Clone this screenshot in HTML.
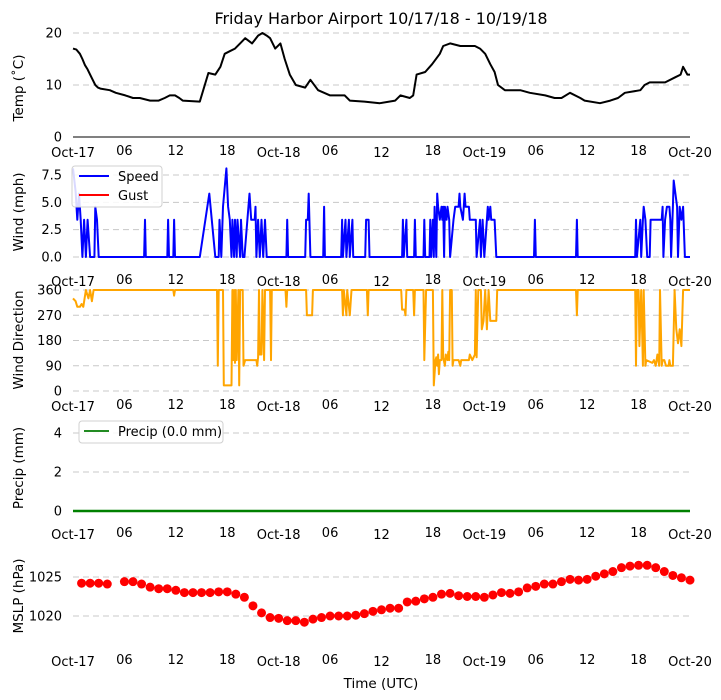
<!DOCTYPE html>
<html><head><meta charset="utf-8"><style>
body{margin:0;background:#fff;}
svg{display:block;font-family:"DejaVu Sans","Liberation Sans",sans-serif;}
</style></head><body>
<svg id="chart" width="721" height="700" viewBox="0 0 721 700" xmlns="http://www.w3.org/2000/svg">
<text x="381" y="24" font-size="16" text-anchor="middle">Friday Harbor Airport 10/17/18 - 10/19/18</text>
<text x="381" y="688" font-size="13.5" text-anchor="middle">Time (UTC)</text>
</svg>
<script>
const xTickHours=[0,6,12,18,24,30,36,42,48,54,60,66,72];
const xTickLabels=["Oct-17","06","12","18","Oct-18","06","12","18","Oct-19","06","12","18","Oct-20"];
const tempTicks=[0,10,20];
const windTicks=[0,2.5,5,7.5];
const windTickLabels=["0.0","2.5","5.0","7.5"];
const dirTicks=[0,90,180,270,360];
const precipTicks=[0,2,4];
const mslpTicks=[1020,1025];
const tempHours=[0,0.4,0.8,1.1,1.4,1.7,2.0,2.3,2.6,2.9,3.2,4.3,5.0,6.1,7.0,7.8,9.0,10.0,10.7,11.3,11.9,12.4,12.8,14.8,15.8,16.6,17.2,17.7,18.3,18.9,19.5,20.1,20.9,21.6,22.1,22.6,23.0,23.6,24.2,24.7,25.3,26.0,27.1,27.7,28.6,30.0,31.7,32.3,34.0,35.8,37.6,38.2,39.3,39.7,40.1,41.1,41.9,42.8,43.2,44.0,45.2,46.9,47.5,48.1,48.7,49.2,49.6,50.4,52.2,53.3,55.1,56.2,57.0,58.0,59.2,59.7,61.5,62.7,63.6,64.4,66.2,66.7,67.3,69.1,70.3,70.9,71.2,71.7,72];
const tempValues=[17,16.8,16,15,13.8,13,12,11,10,9.5,9.3,9,8.5,8,7.5,7.5,7,7,7.5,8,8,7.5,7,6.8,12.3,12,13.5,16,16.5,17,18,19,18,19.5,20,19.5,19,17,18,15,12,10,9.5,11,9,8,8,7,6.8,6.5,7,8,7.5,8,12,12.5,14,16,17.5,18,17.5,17.5,17,16,14,12.5,10,9,9,8.5,8,7.5,7.5,8.5,7.5,7,6.5,7,7.5,8.5,9,10,10.5,10.5,11.5,12,13.5,12,12];
const speedHours=[0,0.3,0.5,0.7,0.9,1.1,1.3,1.5,1.7,2.0,2.5,2.6,2.8,3.0,8.3,8.4,8.5,11.0,11.1,11.2,11.7,11.8,11.9,14.8,15.9,16.6,17.0,17.1,17.3,17.5,17.9,18.1,18.3,18.5,18.6,18.8,18.9,19.1,19.2,19.5,19.6,19.8,20.0,20.6,20.8,21.2,21.3,21.4,21.6,21.8,22.0,22.2,22.4,22.6,24.9,25.0,25.1,27.1,27.2,27.4,27.5,27.7,29.2,29.3,29.4,31.3,31.4,31.5,31.8,31.9,32.2,32.3,32.6,32.7,34.1,34.2,34.5,34.6,38.4,38.5,38.6,38.9,39.0,39.8,39.9,40.0,40.9,41.0,41.1,41.6,41.7,41.8,42.0,42.1,42.2,42.4,42.5,42.6,42.8,43.0,43.1,43.2,43.3,43.4,43.6,43.7,43.9,44.0,44.4,44.6,45.0,45.1,45.2,45.5,45.6,45.7,45.8,46.2,46.3,47.0,47.1,47.5,47.6,47.8,48.0,48.4,48.5,48.7,48.8,49.2,49.4,53.8,53.9,54.0,58.7,58.8,58.9,65.6,65.7,65.8,66.2,66.3,66.5,66.6,66.8,67.0,67.3,67.4,68.7,68.8,68.9,69.1,69.3,69.6,69.7,69.8,70.0,70.1,70.3,70.5,70.6,70.8,71.0,71.2,71.4,72];
const speedValues=[8.1,6,3.4,5.8,3.4,0,3.4,0,3.4,0,0,4.6,3.4,0,0,3.4,0,0,3.4,0,0,3.4,0,0,5.8,0,0,3.4,0,4.6,8.1,4.6,3.4,0,3.4,0,3.4,0,3.4,0,3.4,0,0,5.8,3.4,3.4,4.6,0,3.4,0,3.4,0,3.4,0,0,3.4,0,0,3.4,3.4,5.8,0,0,4.6,0,0,3.4,0,3.4,0,3.4,0,3.4,0,0,3.4,3.4,0,0,3.4,0,3.4,0,0,3.4,0,0,3.4,0,0,3.4,0,3.4,0,4.6,0,5.8,4.6,3.4,4.6,3.4,4.6,0,4.6,3.4,4.6,3.4,0,3.4,4.6,4.6,5.8,4.6,3.4,4.6,5.8,4.6,4.6,3.4,3.4,0,3.4,0,3.4,0,4.6,3.4,4.6,3.4,3.4,0,0,3.4,0,0,3.4,0,0,3.4,0,3.4,0,3.4,4.6,3.4,0,0,3.4,3.4,4.6,0,3.4,4.6,4.6,3.4,0,4.6,7.0,5.8,4.6,0,4.6,3.4,4.6,0,0];
const dirHours=[0,0.3,0.5,0.8,1.0,1.2,1.5,1.8,2.0,2.2,2.4,11.7,11.8,11.9,16.8,16.9,17.0,17.5,17.6,18.5,18.6,18.7,18.8,18.9,19.0,19.1,19.3,19.4,19.5,19.8,19.9,20.1,21.4,21.5,21.6,21.7,21.8,22.0,22.1,22.3,22.4,23.0,23.1,23.2,24.8,24.9,25.0,27.2,27.3,27.9,28.0,31.4,31.5,31.6,31.9,32.0,32.3,32.5,34.3,34.4,34.5,38.3,38.4,38.7,38.8,38.9,39.7,39.8,39.9,40.9,41.0,41.2,42.0,42.1,42.3,42.4,42.5,42.6,42.7,42.8,43.0,43.1,43.2,43.4,43.5,43.7,43.8,43.9,44.0,44.2,44.3,44.4,45.0,45.2,45.3,46.2,46.3,46.6,46.9,47.0,47.1,47.3,47.6,47.7,47.9,48.1,48.3,48.5,48.7,49.4,49.5,58.7,58.8,58.9,65.6,65.7,65.8,66.0,66.1,66.3,66.5,66.6,66.8,66.9,67.6,67.8,68.0,68.2,68.4,68.5,68.7,68.8,69.0,69.2,69.5,69.6,69.7,70.0,70.2,70.4,70.6,70.8,71.0,71.2,72];
const dirValues=[330,320,300,300,310,300,360,330,360,320,360,360,340,360,360,90,360,360,20,20,360,110,360,100,360,110,360,20,360,360,90,110,110,90,120,360,130,130,360,110,360,360,110,360,360,300,360,360,270,270,360,360,270,360,270,360,270,360,360,270,360,360,290,290,270,360,360,270,360,360,110,360,360,20,110,120,90,130,60,110,110,360,120,90,130,110,140,110,360,360,90,110,110,90,110,110,130,110,130,360,120,360,360,220,250,360,220,360,250,250,360,360,270,360,360,90,360,360,160,360,90,360,90,110,100,110,90,130,90,360,90,110,110,90,90,110,90,90,360,220,170,220,160,360,360];
const precipHours=[0,72];
const precipValues=[0,0];
const mslpHours=[1,2,3,4,6,7,8,9,10,11,12,13,14,15,16,17,18,19,20,21,22,23,24,25,26,27,28,29,30,31,32,33,34,35,36,37,38,39,40,41,42,43,44,45,46,47,48,49,50,51,52,53,54,55,56,57,58,59,60,61,62,63,64,65,66,67,68,69,70,71,72];
const mslpValues=[1024.2,1024.2,1024.2,1024.1,1024.4,1024.4,1024.1,1023.7,1023.5,1023.5,1023.3,1023.0,1023.0,1023.0,1023.0,1023.1,1023.1,1022.8,1022.4,1021.3,1020.4,1019.8,1019.7,1019.4,1019.4,1019.2,1019.6,1019.8,1020.0,1020.0,1020.0,1020.1,1020.3,1020.6,1020.8,1021.0,1021.0,1021.8,1021.9,1022.2,1022.4,1022.8,1022.9,1022.6,1022.5,1022.5,1022.4,1022.7,1023.0,1022.9,1023.1,1023.6,1023.8,1024.1,1024.1,1024.4,1024.7,1024.6,1024.7,1025.1,1025.4,1025.7,1026.2,1026.4,1026.5,1026.5,1026.2,1025.7,1025.2,1024.9,1024.6];

const NS="http://www.w3.org/2000/svg";
const svg=document.getElementById('chart');
const X0=73,X1=690;
function xScale(h){return X0+(h/72)*(X1-X0);}
function lin(d0,d1,p0,p1){return v=>p0+(v-d0)/(d1-d0)*(p1-p0);}
function mk(tag,attrs,parent){const e=document.createElementNS(NS,tag);for(const k in attrs)e.setAttribute(k,attrs[k]);(parent||svg).appendChild(e);return e;}

const panels=[
 {name:'temp',ylab:'Temp (˚C)',ly:88,y:lin(0,20,137,33),ticks:tempTicks,tl:tempTicks.map(String),xly:155,axisLine:true},
 {name:'wind',ylab:'Wind (mph)',ly:212,y:lin(0,7.5,257,175),ticks:windTicks,tl:windTickLabels,xly:284},
 {name:'direction',ylab:'Wind Direction',ly:340,y:lin(0,360,391,290),ticks:dirTicks,tl:dirTicks.map(String),xly:409},
 {name:'precip',ylab:'Precip (mm)',ly:468,y:lin(0,4,511,433),ticks:precipTicks,tl:precipTicks.map(String),xly:537},
 {name:'mslp',ylab:'MSLP (hPa)',ly:596,y:lin(1020,1025,616,577),ticks:mslpTicks,tl:mslpTicks.map(String),xly:664}
];
panels.forEach(p=>{
 const g=mk('g',{});
 
 
 p.g=g;
 p.ticks.forEach((t,i)=>{
  const yy=p.y(t);
  if(!(p.axisLine&&t===0)){
   const gl=mk('line',{x1:X0,x2:X1,y1:yy,y2:yy,stroke:'#c8c8c8','stroke-width':1,'stroke-dasharray':'6,4'},g);
   
   
  }
  const tx=mk('text',{x:62,y:yy+4.5,'font-size':13,'text-anchor':'end'},g);
  tx.textContent=p.tl[i];
  
  
 });
 if(p.axisLine){
  const al=mk('line',{x1:X0,x2:X1,y1:p.y(0),y2:p.y(0),stroke:'#000','stroke-width':1},g);
  
  
 }
 xTickHours.forEach((h,i)=>{
  const tx=mk('text',{x:xScale(h),y:p.xly+(i%6===0||i===4||i===8?2:0),'font-size':13,'text-anchor':'middle'},g);
  tx.textContent=xTickLabels[i];
  
  
 });
 const yl=mk('text',{x:0,y:0,'font-size':13.5,'text-anchor':'middle',transform:`translate(23,${p.ly}) rotate(-90)`},g);
 yl.textContent=p.ylab;
 
 
});
function line(p,hs,vs,color,w,name){
 const d=hs.map((h,i)=>(i?'L':'M')+xScale(h).toFixed(1)+','+p.y(vs[i]).toFixed(1)).join('');
 const e=mk('path',{d:d,fill:'none',stroke:color,'stroke-width':w,'stroke-linejoin':'round'},p.g);
 
 
}
line(panels[0],tempHours,tempValues,'#000',2,'temperature-line');
line(panels[1],speedHours,speedValues,'#0000ff',2,'wind-speed-line');
line(panels[2],dirHours,dirValues,'#ffa500',2,'wind-direction-line');
line(panels[3],precipHours,precipValues,'#008000',2.5,'precip-line');
mslpHours.forEach((h,i)=>{
 const c=mk('circle',{cx:xScale(h),cy:panels[4].y(mslpValues[i]),r:4.5,fill:'#ff0000'},panels[4].g);
 
 
});
const lw=mk('g',{});


mk('rect',{x:72,y:166,width:90,height:41,rx:3,fill:'#fff','fill-opacity':0.85,stroke:'#d0d0d0'},lw);
mk('line',{x1:79,x2:109,y1:176,y2:176,stroke:'#0000ff','stroke-width':2},lw);
mk('line',{x1:79,x2:109,y1:195,y2:195,stroke:'#ff0000','stroke-width':2},lw);
const t1=mk('text',{x:118,y:181,'font-size':13},lw);t1.textContent='Speed';


const t2=mk('text',{x:118,y:200,'font-size':13},lw);t2.textContent='Gust';


const lp=mk('g',{});


mk('rect',{x:79,y:421,width:144,height:22,rx:3,fill:'#fff','fill-opacity':0.85,stroke:'#d0d0d0'},lp);
mk('line',{x1:84,x2:109,y1:431,y2:431,stroke:'#228b22','stroke-width':2},lp);
const t3=mk('text',{x:118,y:436,'font-size':13},lp);t3.textContent='Precip (0.0 mm)';


</script>
</body></html>
